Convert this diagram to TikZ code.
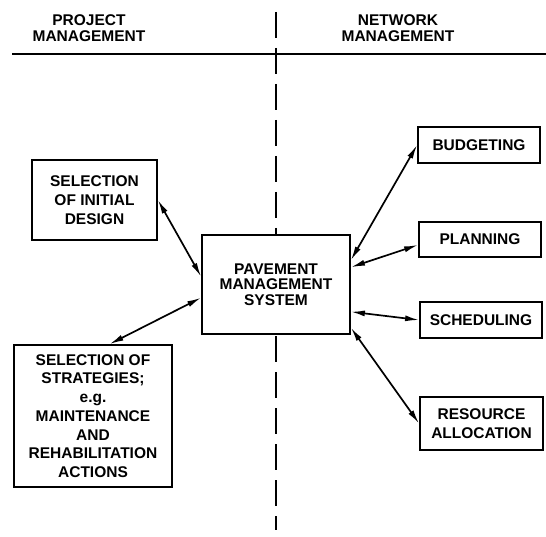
\documentclass[tikz,border=0pt]{standalone}
\usepackage{fontspec}
\setmainfont{Liberation Sans}
\usetikzlibrary{arrows.meta}
\tikzset{
  box/.style={draw,line width=1.8pt,fill=white,align=center,inner sep=2pt,
              font=\bfseries\fontsize{15.5}{18.7}\selectfont},
  head/.style={align=center,font=\bfseries\fontsize{15.5}{16}\selectfont},
  link/.style={{Latex[length=14pt,width=6pt]}-{Latex[length=14pt,width=6pt]},
               line width=1.7pt},
}

\begin{document}
\begin{tikzpicture}[x=1pt,y=-1pt]
  \useasboundingbox (0,0) rectangle (546,537);
  % Header and dividers
  \node[head](proj)at(89,28){PROJECT\\MANAGEMENT};
  \node[head](netw)at(398,28){NETWORK\\MANAGEMENT};
  \draw[line width=1.8pt](12,54)--(546,54);
  \draw[line width=1.5pt,dash pattern=on 26pt off 10pt](276,12)--(276,530);
  % Central system
  \node[box,minimum width=148pt,minimum height=99pt,
        font=\bfseries\fontsize{15.5}{15.5}\selectfont](pms)at(276,284.5)
    {PAVEMENT\\MANAGEMENT\\SYSTEM};
  % Project side
  \node[box,minimum width=125pt,minimum height=80pt](init)at(94.5,200)
    {SELECTION\\OF INITIAL\\DESIGN};
  \node[box,minimum width=158pt,minimum height=142pt](strat)at(93,416)
    {SELECTION OF\\STRATEGIES;\\e.g.\\MAINTENANCE\\AND\\REHABILITATION\\ACTIONS};
  % Network side
  \node[box,minimum width=122pt,minimum height=36pt](budg)at(479,145){BUDGETING};
  \node[box,minimum width=122pt,minimum height=35pt](plan)at(480,239.5){PLANNING};
  \node[box,minimum width=122pt,minimum height=36pt](sched)at(481,320){SCHEDULING};
  \node[box,minimum width=123pt,minimum height=53pt](res)at(481.5,423.5)
    {RESOURCE\\ALLOCATION};
  % Links
  \draw[link](init.east)--(pms.174);
  \draw[link](strat.77)--(pms.190);
  \draw[link](pms.18)--(budg.west);
  \draw[link](pms.13)--(plan.185);
  \draw[link](pms.340)--(sched.west);
  \draw[link](pms.330)--(res.west);
\end{tikzpicture}
\end{document}
